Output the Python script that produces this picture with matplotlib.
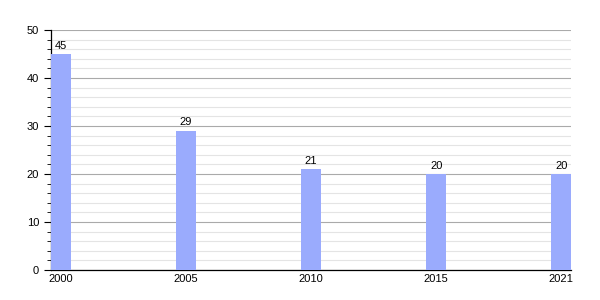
import matplotlib
matplotlib.use('Agg')
import matplotlib.pyplot as plt
import numpy as np

years = ['2000', '2005', '2010', '2015', '2021']
values = [45, 29, 21, 20, 20]

plt.rcParams['font.family'] = ['Liberation Sans', 'DejaVu Sans']

fig = plt.figure(figsize=(6, 3), dpi=100)
ax = fig.add_axes([0.085, 0.1, 0.867, 0.8])

x = np.arange(len(years))
ax.bar(x, values, width=0.16, color='#9aabfd', zorder=3)
for xi, v in zip(x, values):
    ax.text(xi, v + 0.7, str(v), ha='center', va='bottom', fontsize=8, zorder=4)

ax.set_xlim(-0.08, len(years) - 1 + 0.08)
ax.set_ylim(0, 50)
ax.set_xticks(x)
ax.set_xticklabels(years, fontsize=8)
ax.set_yticks(np.arange(0, 51, 10))
ax.set_yticks(np.arange(0, 51, 2), minor=True)
ax.tick_params(axis='y', labelsize=8, length=5, width=0.8, direction='out')
ax.tick_params(axis='y', which='minor', length=3, width=0.6)
ax.tick_params(axis='x', length=0, pad=3)

ax.grid(axis='y', which='major', color='#aaaaaa', lw=0.8, zorder=1)
ax.grid(axis='y', which='minor', color='#e4e4e4', lw=0.8, zorder=0)

for s in ['top', 'right']:
    ax.spines[s].set_visible(False)
ax.spines['left'].set_linewidth(0.9)
ax.spines['bottom'].set_linewidth(0.9)

fig.savefig('out.png', dpi=100)
